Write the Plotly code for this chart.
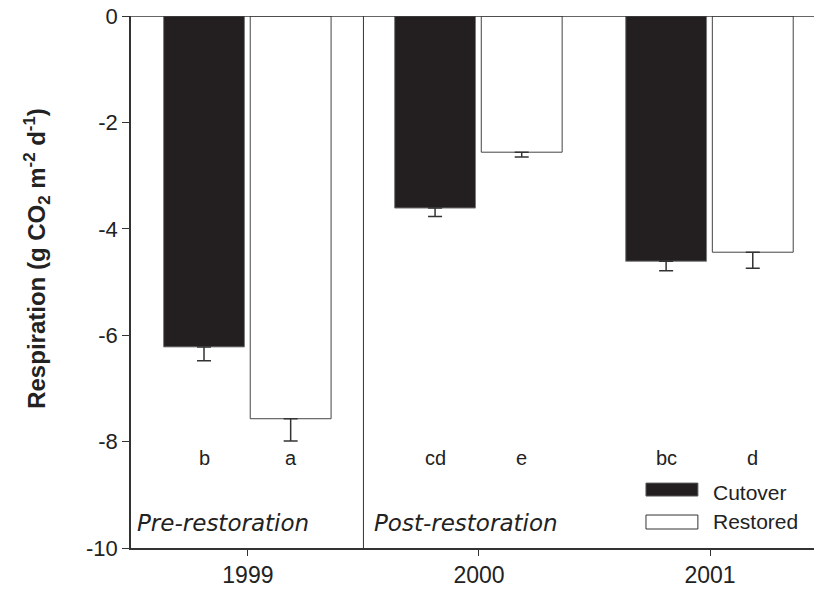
import plotly.graph_objects as go

years = ["1999", "2000", "2001"]
cutover = [-6.22, -3.61, -4.61]
cutover_err = [0.26, 0.16, 0.18]
restored = [-7.57, -2.56, -4.44]
restored_err = [0.42, 0.09, 0.30]
cutover_letters = ["b", "cd", "bc"]
restored_letters = ["a", "e", "d"]
yticks = [0, -2, -4, -6, -8, -10]
yticklabels = ["0", "-2", "-4", "-6", "-8", "-10"]

FONT = "Liberation Sans, Arial, sans-serif"
WIDE = "DejaVu Sans, sans-serif"
BW = 0.35
OFF_C = -0.365
OFF_R = 0.01
xs = list(range(len(years)))

fig = go.Figure()
fig.add_trace(go.Bar(
    x=xs, y=cutover, width=BW, offset=OFF_C, name="Cutover",
    marker=dict(color="#231f20", line=dict(color="#7a7a7a", width=1)),
    error_y=dict(type="data", symmetric=False, array=[0]*3, arrayminus=cutover_err,
                 color="#333333", thickness=1.5, width=7),
))
fig.add_trace(go.Bar(
    x=xs, y=restored, width=BW, offset=OFF_R, name="Restored",
    marker=dict(color="white", line=dict(color="#444444", width=1)),
    error_y=dict(type="data", symmetric=False, array=[0]*3, arrayminus=restored_err,
                 color="#333333", thickness=1.5, width=7),
))

annotations = []
for i in xs:
    annotations.append(dict(x=i + OFF_C + BW/2, y=-8.3, text=cutover_letters[i], showarrow=False,
                            xref="x", yref="y", font=dict(family=FONT, size=20, color="#222")))
    annotations.append(dict(x=i + OFF_R + BW/2, y=-8.3, text=restored_letters[i], showarrow=False,
                            xref="x", yref="y", font=dict(family=FONT, size=20, color="#222")))

annotations += [
    dict(x=0.006, y=0.047, xref="paper", yref="paper", text="<i>Pre-restoration</i>", showarrow=False,
         xanchor="left", yanchor="middle", font=dict(family=WIDE, size=23, color="#222")),
    dict(x=0.353, y=0.047, xref="paper", yref="paper", text="<i>Post-restoration</i>", showarrow=False,
         xanchor="left", yanchor="middle", font=dict(family=WIDE, size=23, color="#222")),
    dict(x=0.849, y=0.105, xref="paper", yref="paper", text="Cutover", showarrow=False,
         xanchor="left", yanchor="middle", font=dict(family=FONT, size=21, color="#222")),
    dict(x=0.849, y=0.049, xref="paper", yref="paper", text="Restored", showarrow=False,
         xanchor="left", yanchor="middle", font=dict(family=FONT, size=21, color="#222")),
    dict(x=-0.138, y=0.545, xref="paper", yref="paper", textangle=-90, showarrow=False,
         text="<b>Respiration (g CO<sub>2</sub> m<sup>-2</sup> d<sup>-1</sup>)</b>",
         xanchor="center", yanchor="middle", font=dict(family=FONT, size=24, color="#222")),
]

shapes = [
    dict(type="line", xref="paper", yref="y", x0=-0.01, x1=1, y0=0, y1=0,
         line=dict(color="#333333", width=1.5)),
    dict(type="line", xref="x", yref="y", x0=0.5, x1=0.5, y0=-10, y1=0,
         line=dict(color="#333333", width=1)),
    dict(type="rect", xref="paper", yref="paper", x0=0.754, x1=0.830, y0=0.0977, y1=0.122,
         fillcolor="#231f20", line=dict(color="#555", width=1)),
    dict(type="rect", xref="paper", yref="paper", x0=0.754, x1=0.830, y0=0.0357, y1=0.062,
         fillcolor="white", line=dict(color="#333", width=1)),
]

fig.update_layout(
    width=814, height=592,
    margin=dict(l=131, r=0, t=16, b=44),
    paper_bgcolor="white", plot_bgcolor="white",
    showlegend=False,
    barmode="overlay",
    annotations=annotations, shapes=shapes,
    font=dict(family=FONT, color="#222"),
    xaxis=dict(range=[-0.506, 2.45], tickvals=xs, ticktext=years, showline=True,
               linecolor="#333333", linewidth=1.5, ticks="outside", ticklen=6,
               tickcolor="#333333", showgrid=False, zeroline=False,
               tickfont=dict(family=FONT, size=23, color="#222")),
    yaxis=dict(range=[-10, 0], tickvals=yticks, ticktext=yticklabels, showline=True,
               linecolor="#333333", linewidth=1.5, ticks="outside", ticklen=7,
               tickcolor="#333333", showgrid=False, zeroline=False,
               tickfont=dict(family=FONT, size=22, color="#222")),
)

fig.write_html("out.html")
